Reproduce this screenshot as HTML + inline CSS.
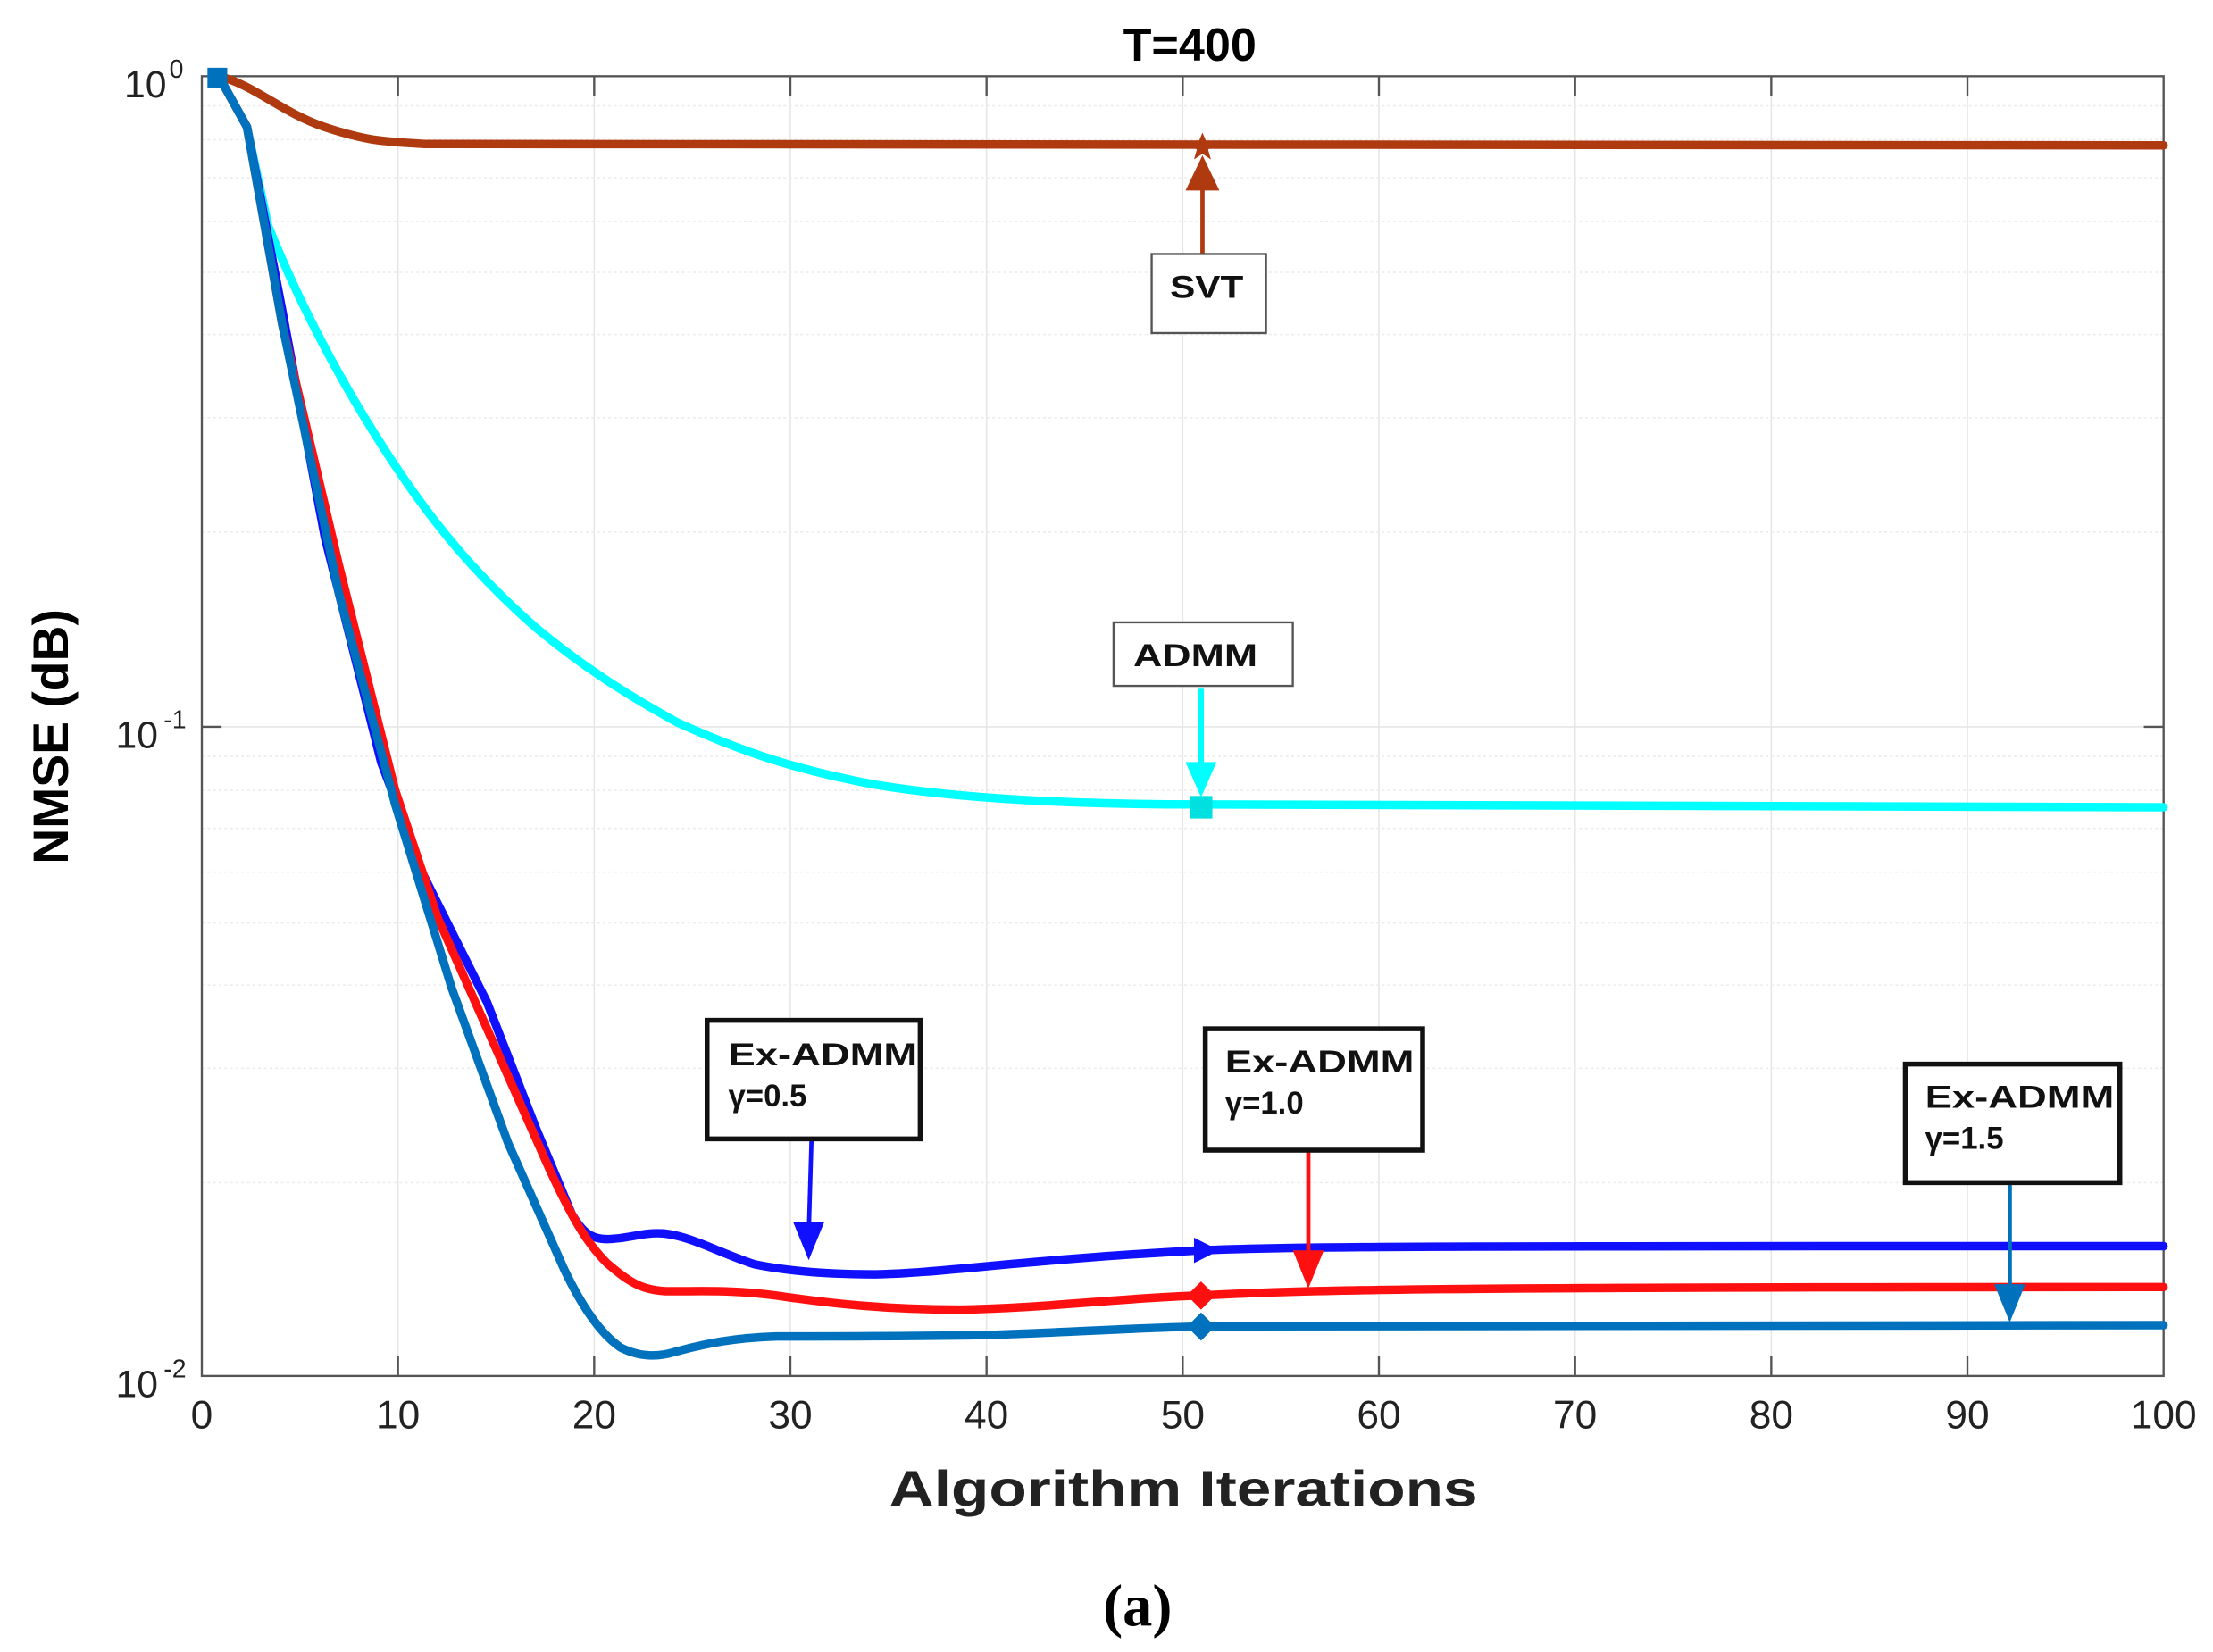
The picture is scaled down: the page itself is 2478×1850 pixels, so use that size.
<!DOCTYPE html>
<html><head><meta charset="utf-8"><style>html,body{margin:0;padding:0;background:#fff}svg{display:block}</style></head><body>
<svg width="2478" height="1850" viewBox="0 0 1568 1170.6" preserveAspectRatio="none" xmlns="http://www.w3.org/2000/svg" font-family="Liberation Sans, sans-serif">
<rect width="1568" height="1171" fill="#fff"/>
<g stroke="#e6e6e6" stroke-width="1">
<line x1="282" y1="54" x2="282" y2="975"/><line x1="421" y1="54" x2="421" y2="975"/><line x1="560" y1="54" x2="560" y2="975"/><line x1="699" y1="54" x2="699" y2="975"/><line x1="838" y1="54" x2="838" y2="975"/><line x1="977" y1="54" x2="977" y2="975"/><line x1="1116" y1="54" x2="1116" y2="975"/><line x1="1255" y1="54" x2="1255" y2="975"/><line x1="1394" y1="54" x2="1394" y2="975"/>
<line x1="143" y1="515" x2="1533" y2="515"/>
</g>
<g stroke="#ececec" stroke-width="1" stroke-dasharray="2,2">
<line x1="143" y1="75" x2="1533" y2="75"/><line x1="143" y1="99" x2="1533" y2="99"/><line x1="143" y1="126" x2="1533" y2="126"/><line x1="143" y1="157" x2="1533" y2="157"/><line x1="143" y1="193" x2="1533" y2="193"/><line x1="143" y1="237" x2="1533" y2="237"/><line x1="143" y1="296" x2="1533" y2="296"/><line x1="143" y1="377" x2="1533" y2="377"/>
<line x1="143" y1="536" x2="1533" y2="536"/><line x1="143" y1="560" x2="1533" y2="560"/><line x1="143" y1="587" x2="1533" y2="587"/><line x1="143" y1="618" x2="1533" y2="618"/><line x1="143" y1="654" x2="1533" y2="654"/><line x1="143" y1="698" x2="1533" y2="698"/><line x1="143" y1="757" x2="1533" y2="757"/><line x1="143" y1="838" x2="1533" y2="838"/>
</g>
<g stroke="#555" stroke-width="1.5">
<path d="M282,975v-14M421,975v-14M560,975v-14M699,975v-14M838,975v-14M977,975v-14M1116,975v-14M1255,975v-14M1394,975v-14M282,54v14M421,54v14M560,54v14M699,54v14M838,54v14M977,54v14M1116,54v14M1255,54v14M1394,54v14M143,515h14M1533,515h-14"/>
</g>
<rect x="143" y="54" width="1390" height="921" fill="none" stroke="#555" stroke-width="1.5"/>
<g font-size="28" fill="#222" text-anchor="middle">
<text x="143" y="1012">0</text><text x="282" y="1012">10</text><text x="421" y="1012">20</text><text x="560" y="1012">30</text><text x="699" y="1012">40</text><text x="838" y="1012">50</text><text x="977" y="1012">60</text><text x="1116" y="1012">70</text><text x="1255" y="1012">80</text><text x="1394" y="1012">90</text><text x="1533" y="1012">100</text>
</g>
<g font-size="27" fill="#222" text-anchor="end">
<text x="118" y="69">10</text><text x="130" y="55" font-size="18">0</text>
<text x="112" y="530">10</text><text x="132" y="516" font-size="18">-1</text>
<text x="112" y="990">10</text><text x="132" y="976" font-size="18">-2</text>
</g>
<text x="843" y="43" font-size="33" font-weight="bold" text-anchor="middle">T=400</text>
<text x="630" y="1067" font-size="36" font-weight="bold" fill="#222" textLength="417" lengthAdjust="spacingAndGlyphs">Algorithm Iterations</text>
<text transform="translate(48,522) rotate(-90)" font-size="35" font-weight="bold" text-anchor="middle">NMSE (dB)</text>
<text x="806" y="1152" font-size="42" font-weight="bold" text-anchor="middle" font-family="Liberation Serif, serif">(a)</text>
<g fill="none" stroke-width="6" stroke-linejoin="round" stroke-linecap="round">
<path stroke="#b03a10" d="M155,54 C180,60 200,80 230,90 S270,100 300,102 L1533,103"/>
<path stroke="#00ffff" d="M155,54 L175,90 L190,160 C210,210 240,270 280,330 C310,375 340,410 380,445 C410,470 440,490 480,512 C520,530 560,545 620,556 C680,566 760,570 850,570 L1533,572"/>
<path stroke="#1010ff" d="M155,54 L175,90 L200,220 L230,380 L270,540 L300,620 C320,660 335,690 345,710 L380,800 L405,860 C412,872 418,878 430,878 C445,878 455,873 470,874 C490,876 510,888 535,896 C560,901 590,903 620,903 C670,902 720,893 850,886 C930,883 1000,883 1533,883"/>
<path stroke="#ff1010" d="M155,54 L175,90 L200,230 L240,400 L280,560 L310,650 L350,740 L390,830 C405,862 415,880 430,895 C445,908 455,915 475,915 C500,915 520,914 550,918 C590,924 630,928 680,928 C740,927 790,920 850,918 C930,914 1000,912 1533,912"/>
<path stroke="#0072bd" d="M155,54 L175,90 L200,230 L240,420 L280,570 L320,700 L360,810 L400,900 C412,925 425,945 440,955 C452,961 465,962 478,958 C500,952 520,948 550,947 C600,947 650,947 700,946 C760,944 800,941 850,940 C930,938 1000,938 1533,939"/>
</g>
<rect x="147" y="48" width="14" height="14" fill="#0072bd"/>
<polygon points="852,94 855,101 862,101 856,106 858,113 852,109 846,113 848,106 842,101 849,101" fill="#b03a10"/>
<rect x="843" y="564" width="16" height="16" fill="#00e0e0"/>
<polygon points="846,877 864,886 846,895" fill="#1010ff"/>
<polygon points="851,908 861,918 851,928 841,918" fill="#ff1010"/>
<polygon points="851,930 861,940 851,950 841,940" fill="#0072bd"/>
<g stroke-width="3">
<line x1="852" y1="180" x2="852" y2="130" stroke="#b03a10"/><polygon points="852,110 840,135 864,135" fill="#b03a10"/>
<line x1="851" y1="488" x2="851" y2="550" stroke="#00ffff" stroke-width="4"/><polygon points="851,565 840,540 862,540" fill="#00ffff"/>
<line x1="575" y1="807" x2="573" y2="875" stroke="#1010ff"/><polygon points="573,893 562,866 584,866" fill="#1010ff"/>
<line x1="927" y1="815" x2="927" y2="895" stroke="#ff1010"/><polygon points="927,913 916,886 938,886" fill="#ff1010"/>
<line x1="1424" y1="838" x2="1424" y2="918" stroke="#0072bd"/><polygon points="1424,937 1413,910 1435,910" fill="#0072bd"/>
</g>
<g font-weight="bold" fill="#111">
<rect x="816" y="180" width="81" height="56" fill="#fff" stroke="#555" stroke-width="1.5"/>
<text x="829" y="211" font-size="22" textLength="52" lengthAdjust="spacingAndGlyphs">SVT</text>
<rect x="789" y="441" width="127" height="45" fill="#fff" stroke="#555" stroke-width="1.5"/>
<text x="803" y="472" font-size="22" textLength="88" lengthAdjust="spacingAndGlyphs">ADMM</text>
<rect x="501" y="723" width="151" height="84" fill="#fff" stroke="#111" stroke-width="3.5"/>
<text x="516" y="755" font-size="22" textLength="134" lengthAdjust="spacingAndGlyphs">Ex-ADMM</text><text x="516" y="784" font-size="22">γ=0.5</text>
<rect x="854" y="729" width="154" height="86" fill="#fff" stroke="#111" stroke-width="3.5"/>
<text x="868" y="760" font-size="22" textLength="134" lengthAdjust="spacingAndGlyphs">Ex-ADMM</text><text x="868" y="789" font-size="22">γ=1.0</text>
<rect x="1350" y="754" width="152" height="84" fill="#fff" stroke="#111" stroke-width="3.5"/>
<text x="1364" y="785" font-size="22" textLength="134" lengthAdjust="spacingAndGlyphs">Ex-ADMM</text><text x="1364" y="814" font-size="22">γ=1.5</text>
</g>
</svg>
</body></html>
